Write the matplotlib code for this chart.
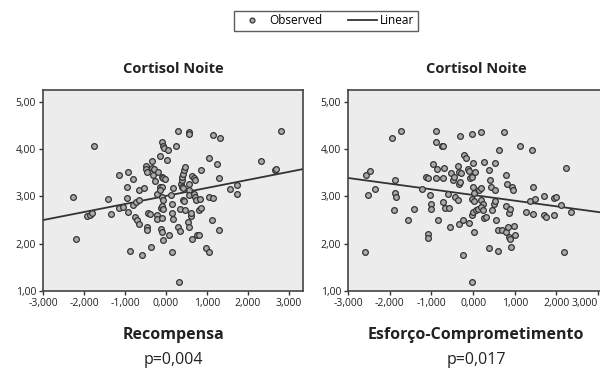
import numpy as np
import matplotlib
matplotlib.use('Agg')
import matplotlib.pyplot as plt
from matplotlib.lines import Line2D

plt.rcParams['font.family'] = ['Open Sans', 'DejaVu Sans']

# Recompensa (x) vs Cortisol Noite (y)
recompensa_x = [-2.28, -2.20, -1.76, -1.92, -1.85, -1.81, -1.41, -1.35, -1.14, -0.93,
                -0.96, -0.96, -0.92, -0.88, -0.81, -1.14, -1.04, -0.80, -0.73, -0.67,
                -0.76, -0.72, -0.65, -0.59, -0.50, -0.50, -0.47, -0.65, -0.54, -0.47,
                -0.46, -0.44, -0.39, -0.37, -0.34, -0.33, -0.29, -0.31, -0.27, -0.23,
                -0.21, -0.23, -0.19, -0.15, -0.11, -0.15, -0.13, -0.11, -0.11, -0.08,
                -0.05, -0.15, -0.12, -0.09, -0.08, -0.07, -0.02, -0.11, -0.07, -0.10,
                -0.08, -0.11, 0.03, 0.04, 0.08, 0.11, 0.15, 0.14, 0.18, 0.15,
                0.18, 0.24, 0.28, 0.30, 0.33, 0.32, 0.35, 0.36, 0.38, 0.40,
                0.38, 0.41, 0.42, 0.45, 0.46, 0.41, 0.44, 0.46, 0.55, 0.56,
                0.55, 0.57, 0.57, 0.54, 0.57, 0.60, 0.60, 0.63, 0.67, 0.70,
                0.68, 0.71, 0.64, 0.72, 0.75, 0.80, 0.81, 0.85, 0.83, 0.86,
                0.97, 1.06, 1.06, 1.04, 1.14, 1.12, 1.15, 1.25, 1.29, 1.28,
                1.32, 1.56, 1.72, 1.74, 2.31, 2.66, 2.67, 2.80]
recompensa_y = [2.99, 2.11, 4.07, 2.59, 2.61, 2.65, 2.95, 2.63, 3.46, 3.51,
                3.20, 2.97, 2.67, 1.85, 3.36, 2.75, 2.78, 2.81, 2.88, 2.92,
                2.57, 2.50, 2.41, 1.76, 3.64, 3.59, 3.52, 3.13, 3.17, 2.35,
                2.28, 2.65, 2.62, 1.93, 3.74, 3.60, 3.57, 3.45, 3.32, 3.06,
                2.60, 2.53, 3.52, 3.20, 3.19, 3.13, 2.76, 3.41, 4.14, 4.07,
                4.03, 3.85, 2.32, 2.24, 2.07, 3.38, 3.37, 2.98, 2.93, 2.80,
                2.74, 2.55, 3.77, 3.99, 2.18, 3.02, 2.83, 1.83, 3.17, 2.65,
                2.53, 4.07, 4.38, 2.35, 2.26, 1.19, 2.74, 3.27, 3.34, 3.41,
                3.20, 3.17, 3.48, 3.55, 3.62, 2.92, 2.90, 2.71, 4.36, 4.33,
                3.27, 3.13, 3.02, 2.46, 2.35, 2.58, 2.64, 3.43, 3.38, 3.34,
                3.06, 2.99, 2.11, 2.92, 2.18, 2.18, 2.71, 2.76, 2.95, 3.55,
                1.90, 1.83, 3.82, 2.99, 2.96, 2.50, 4.29, 3.68, 3.38, 2.28,
                4.24, 3.16, 3.06, 3.24, 3.74, 3.55, 3.59, 4.38]

# Esforço-Comprometimento (x) vs Cortisol Noite (y)
esforco_x = [-2.59, -2.58, -2.47, -2.51, -2.36, -1.94, -1.73, -1.87, -1.87, -1.85,
             -1.90, -1.56, -1.41, -1.22, -1.08, -1.08, -1.12, -1.08, -1.03, -1.00,
             -1.00, -0.97, -0.88, -0.90, -0.88, -0.86, -0.85, -0.74, -0.71, -0.73,
             -0.70, -0.71, -0.67, -0.58, -0.61, -0.56, -0.53, -0.49, -0.45, -0.44,
             -0.36, -0.36, -0.33, -0.29, -0.34, -0.31, -0.32, -0.34, -0.24, -0.25,
             -0.21, -0.16, -0.11, -0.09, -0.09, -0.07, -0.03, -0.03, -0.03, -0.01,
             0.00, 0.03, -0.03, 0.03, 0.03, -0.03, 0.00, 0.05, 0.07, 0.11,
             0.15, 0.19, 0.18, 0.19, 0.23, 0.19, 0.23, 0.26, 0.30, 0.27,
             0.37, 0.39, 0.41, 0.44, 0.46, 0.52, 0.50, 0.53, 0.53, 0.55,
             0.60, 0.60, 0.62, 0.69, 0.78, 0.74, 0.78, 0.79, 0.81, 0.84,
             0.86, 0.88, 0.86, 0.89, 0.90, 0.94, 0.96, 0.98, 1.00, 1.13,
             1.28, 1.36, 1.41, 1.44, 1.43, 1.49, 1.71, 1.70, 1.75, 1.94,
             1.98, 1.95, 2.12, 2.23, 2.35, 2.18]
esforco_y = [1.83, 3.46, 3.54, 3.04, 3.15, 4.23, 4.38, 3.34, 3.07, 2.99,
             2.72, 2.50, 2.73, 3.16, 2.21, 2.12, 3.41, 3.38, 3.04, 2.85,
             2.74, 3.68, 4.38, 4.14, 3.38, 3.57, 2.51, 4.06, 4.06, 3.38,
             3.60, 2.88, 2.76, 2.76, 3.05, 2.35, 3.50, 3.34, 3.41, 2.98,
             2.93, 3.64, 3.52, 3.50, 3.26, 3.31, 4.28, 2.41, 2.51, 1.76,
             3.87, 3.82, 3.57, 3.54, 2.44, 3.38, 3.41, 4.32, 1.19, 3.71,
             3.20, 3.07, 2.95, 2.90, 2.25, 2.60, 2.67, 3.52, 2.71, 2.74,
             3.13, 3.17, 4.37, 2.92, 2.85, 2.78, 2.71, 2.55, 2.57, 3.73,
             3.55, 1.90, 3.34, 3.20, 2.71, 3.71, 2.85, 2.90, 3.13, 2.50,
             1.85, 2.28, 3.99, 2.28, 2.25, 4.37, 2.79, 3.45, 3.27, 2.35,
             2.14, 2.09, 2.65, 2.74, 1.93, 3.20, 3.13, 2.37, 2.18, 4.06,
             2.66, 2.91, 3.99, 3.19, 2.62, 2.95, 3.00, 2.60, 2.57, 2.96,
             2.98, 2.61, 2.82, 3.61, 2.66, 1.83]

# linear fit lines: (intercept, slope)
recompensa_fit = (3.01, 0.17)
esforco_fit = (3.03, -0.12)

x_ticks = [-3, -2, -1, 0, 1, 2, 3]
x_tick_labels = ['-3,000', '-2,000', '-1,000', '0,000', '1,000', '2,000', '3,000']
y_ticks = [1, 2, 3, 4, 5]
y_tick_labels = ['1,00', '2,00', '3,00', '4,00', '5,00']

panels = [
    dict(x=recompensa_x, y=recompensa_y, fit=recompensa_fit, xlim=(-3, 3.34),
         rect=[43/600, 1-291/369, 260/600, 201/369],
         xlabel='Recompensa', p='p=0,004'),
    dict(x=esforco_x, y=esforco_y, fit=esforco_fit, xlim=(-3, 3.14),
         rect=[348/600, 1-291/369, 256/600, 201/369],
         xlabel='Esforço-Comprometimento', p='p=0,017'),
]

fig = plt.figure(figsize=(6, 3.69), dpi=100)

for i, pnl in enumerate(panels):
    ax = fig.add_axes(pnl['rect'])
    ax.set_facecolor('#ececec')
    ax.scatter(pnl['x'], pnl['y'], s=17, facecolor='#ababab', edgecolor='#333333',
               linewidth=0.9, zorder=3)
    xs = np.array(pnl['xlim'])
    b0, b1 = pnl['fit']
    ax.plot(xs, b0 + b1 * xs, color='#333333', lw=1.3, zorder=2)
    ax.set_xlim(*pnl['xlim'])
    ax.set_ylim(1, 5.25)
    ax.set_xticks(x_ticks)
    ax.set_xticklabels(x_tick_labels)
    ax.set_yticks(y_ticks)
    ax.set_yticklabels(y_tick_labels)
    ax.tick_params(direction='out', length=3, width=1, colors='#333333',
                   labelsize=7.5, labelcolor='#222222', pad=2)
    if i == 1:
        # last label would run off the figure edge
        ax.get_xticklabels()[-1].set_horizontalalignment('right')
        ax.get_xticklabels()[-1].set_x(3.08)
    for sp in ax.spines.values():
        sp.set_color('#444444')
        sp.set_linewidth(1.2)
    ax.set_title('Cortisol Noite', fontsize=10.5, fontweight='bold', pad=12,
                 color='#222222')
    ax.text(0.5, -0.22, pnl['xlabel'], transform=ax.transAxes, ha='center',
            va='center', fontsize=11.5, fontweight='bold', color='#222222')
    ax.text(0.5, -0.345, pnl['p'], transform=ax.transAxes, ha='center',
            va='center', fontsize=11.5, color='#222222')

handles = [
    Line2D([], [], marker='o', ls='none', markersize=3.5, markerfacecolor='#ababab',
           markeredgecolor='#333333', markeredgewidth=0.9, label='Observed'),
    Line2D([], [], color='#333333', lw=1.3, label='Linear'),
]
fig.legend(handles=handles, loc='center', bbox_to_anchor=(326/600, 1-21/369),
           ncol=2, frameon=True, fancybox=False, edgecolor='#333333',
           fontsize=8.5, handlelength=2.4, handletextpad=0.3, columnspacing=2.2,
           borderpad=0.3)

fig.savefig('out.png', dpi=100)
